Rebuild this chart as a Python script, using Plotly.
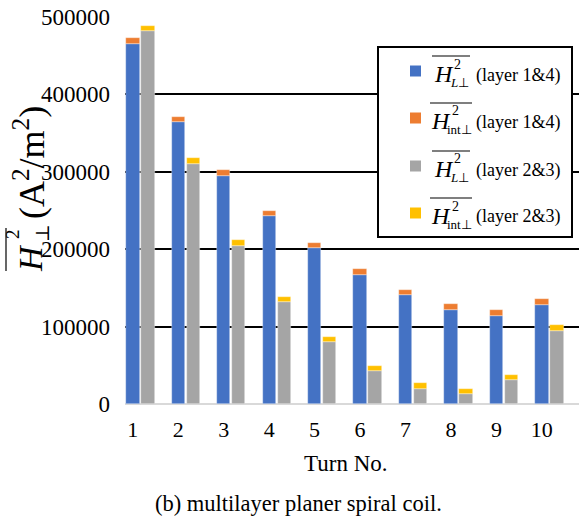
import plotly.graph_objects as go

# Turn numbers of the coil
turns = [1, 2, 3, 4, 5, 6, 7, 8, 9, 10]

# Mean-square perpendicular field per turn (A^2/m^2)
h_l_layer14 = [465500, 364000, 295000, 242700, 201300, 167000, 141000, 121600, 113800, 128000]
h_int_layer14 = [7800, 7000, 7300, 7000, 6500, 7400, 6500, 7400, 7800, 7500]
h_l_layer23 = [481400, 310600, 203900, 131400, 80000, 42900, 19900, 13400, 30700, 94300]
h_int_layer23 = [7300, 6800, 7700, 7400, 7000, 6800, 6900, 6500, 7000, 7400]

y_ticks = [0, 100000, 200000, 300000, 400000, 500000]

BLUE, ORANGE, GRAY, YELLOW = "#4472C4", "#ED7D31", "#A5A5A5", "#FFC000"
SERIF = "Liberation Serif"

W, H = 579, 518
ML, MR, MT, MB = 125, 0, 17, 114
PW, PH = W - ML - MR, H - MT - MB


def px(x):
    return (x - ML) / PW


def py(y):
    return (H - MB - y) / PH


bw = 0.293

fig = go.Figure()
edge = dict(color="rgba(255,255,255,0.6)", width=0.6)
fig.add_trace(go.Bar(x=turns, y=h_l_layer14, width=bw, offset=-0.146,
                     marker=dict(color=BLUE, line=edge), showlegend=False))
fig.add_trace(go.Bar(x=turns, y=h_int_layer14, base=h_l_layer14, width=bw, offset=-0.146,
                     marker=dict(color=ORANGE, line=edge), showlegend=False))
fig.add_trace(go.Bar(x=turns, y=h_l_layer23, width=bw, offset=0.184,
                     marker=dict(color=GRAY, line=edge), showlegend=False))
fig.add_trace(go.Bar(x=turns, y=h_int_layer23, base=h_l_layer23, width=bw, offset=0.184,
                     marker=dict(color=YELLOW, line=edge), showlegend=False))

shapes = []
annotations = []


def text(x, y, s, size, italic=False, angle=0, family=SERIF):
    if italic:
        s = "<i>" + s + "</i>"
    annotations.append(dict(x=px(x), y=py(y), xref="paper", yref="paper", text=s,
                            showarrow=False, xanchor="center", yanchor="middle",
                            textangle=angle, borderpad=0,
                            font=dict(family=family, size=size, color="black")))


def line(x0, y0, x1, y1, width=1.2):
    shapes.append(dict(type="line", xref="paper", yref="paper",
                       x0=px(x0), y0=py(y0), x1=px(x1), y1=py(y1),
                       line=dict(color="black", width=width)))


# Legend box
shapes.append(dict(type="rect", xref="paper", yref="paper",
                   x0=px(378), y0=py(237), x1=px(572), y1=py(47),
                   line=dict(color="black", width=2), fillcolor="white", layer="above"))

legend_rows = [
    (71, BLUE, "<i>L</i>⊥", "(layer 1&4)", False),
    (118, ORANGE, "int⊥", "(layer 1&4)", True),
    (166, GRAY, "<i>L</i>⊥", "(layer 2&3)", False),
    (213, YELLOW, "int⊥", "(layer 2&3)", True),
]
for yr, col, sub, lab, is_int in legend_rows:
    shapes.append(dict(type="rect", xref="paper", yref="paper",
                       x0=px(410), x1=px(421), y0=py(yr + 5.5), y1=py(yr - 5.5),
                       line=dict(width=0), fillcolor=col, layer="above"))
    hx = 441 if is_int else 443.5
    text(hx, yr + 3, "H", 24, italic=True)
    text(hx + 14, yr - 7, "2", 14)
    text(459, yr + 11, sub, 13)
    if is_int:
        line(430, yr - 15, 472, yr - 15)
    else:
        line(432, yr - 15, 470, yr - 15)
    text(518, yr + 4, lab, 18)

# Y-axis title built from rotated pieces (overlined H, stacked 2 and ⊥, units)
text(30, 258, "H", 34, italic=True, angle=-90)
text(13, 234, "2", 19, angle=-90)
text(42, 233, "⊥", 19, angle=-90, family="DejaVu Serif")
line(6, 228, 6, 271)
text(29, 163, "(A<sup>2</sup>/m<sup>2</sup>)", 36, angle=-90)

# Axis title and caption
text(346, 463, "Turn No.", 23)
text(298, 503, "(b) multilayer planer spiral coil.", 22.5)

fig.update_layout(
    width=W, height=H,
    margin=dict(l=ML, r=MR, t=MT, b=MB),
    paper_bgcolor="white", plot_bgcolor="white",
    barmode="overlay", bargap=0,
    shapes=shapes, annotations=annotations,
    font=dict(family=SERIF, color="black"),
    xaxis=dict(range=[0.828, 10.817], tickvals=turns, ticktext=[str(t) for t in turns],
               showgrid=False, zeroline=False, showline=False, ticks="",
               tickfont=dict(family=SERIF, size=22), ticklabelstandoff=10),
    yaxis=dict(range=[0, 500000], tickvals=y_ticks, ticktext=[str(v) for v in y_ticks],
               showgrid=True, gridcolor="black", gridwidth=1.6,
               zeroline=True, zerolinecolor="#D9D9D9", zerolinewidth=2,
               showline=False, ticks="", tickfont=dict(family=SERIF, size=23),
               ticklabelstandoff=14),
)

fig.write_html("out.html")
